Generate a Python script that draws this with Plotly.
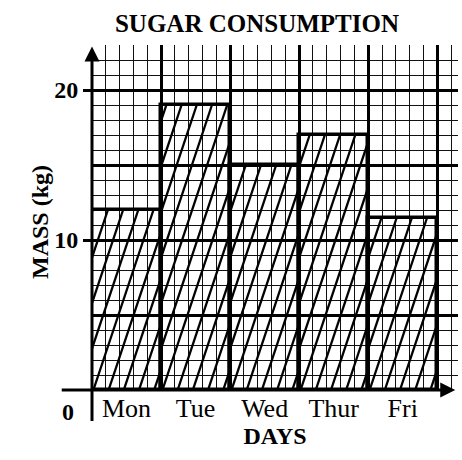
import numpy as np
import plotly.graph_objects as go

# ---- data ----
days = ["Mon", "Tue", "Wed", "Thur", "Fri"]
mass_kg = [12, 19, 15, 17, 11.5]
y_tick_vals = [10, 20]
y_tick_text = ["10", "20"]

SERIF = "Liberation Serif, Times New Roman, serif"

pos = list(range(len(days)))

# hatch lines (computed from the bar values)
slope = 13.8      # kg per bar-width (steep hatch)
spacing = 0.22    # horizontal spacing in bar widths
hx, hy = [], []
for i, h in zip(pos, mass_kg):
    left, right = i - 0.5, i + 0.5
    jmin = int(np.floor(-(h / slope) / spacing)) - 1
    jmax = int(np.ceil(1 / spacing)) + 1
    for j in range(jmin, jmax + 1):
        c = left + j * spacing + 0.02
        ya = max(0.0, (left - c) * slope)
        yb = min(h, (right - c) * slope)
        if yb > ya + 1e-6:
            hx += [c + ya / slope, c + yb / slope, None]
            hy += [ya, yb, None]

fig = go.Figure()

fig.add_trace(go.Bar(
    x=pos, y=mass_kg, width=1,
    marker=dict(color="rgba(0,0,0,0)", line=dict(color="black", width=3.5)),
    hoverinfo="skip", showlegend=False,
))
fig.add_trace(go.Scatter(
    x=hx, y=hy, mode="lines", line=dict(color="black", width=2.3),
    hoverinfo="skip", showlegend=False,
))
# invisible trace to anchor the grid overlay axes
fig.add_trace(go.Scatter(
    x=pos, y=mass_kg, xaxis="x2", yaxis="y2", mode="markers",
    marker=dict(opacity=0), hoverinfo="skip", showlegend=False,
))

xr = [-0.5, 4.8]
yr = [0, 23]

fig.update_layout(
    width=462, height=460,
    margin=dict(l=92, r=4, t=45, b=70, autoexpand=False),
    paper_bgcolor="white", plot_bgcolor="white",
    font=dict(family=SERIF, color="black", size=22),
    title=dict(text="<b>SUGAR CONSUMPTION</b>", x=257 / 462, xanchor="center",
               y=1 - 23 / 460, yanchor="middle", yref="container", automargin=False,
               font=dict(family=SERIF, size=25, color="black")),
    xaxis=dict(range=xr, tickvals=pos, ticktext=days, showgrid=False,
               zeroline=False, showline=False, ticks="", automargin=False,
               tickfont=dict(family=SERIF, size=26),
               title=dict(text="<b>DAYS</b>", standoff=4,
                          font=dict(family=SERIF, size=24))),
    yaxis=dict(range=yr, tickvals=y_tick_vals, ticktext=y_tick_text,
               showgrid=False, zeroline=False, showline=False, automargin=False,
               ticks="outside", ticklen=8, tickwidth=3, tickcolor="black",
               tickfont=dict(family=SERIF, size=24, weight="bold")),
    xaxis2=dict(overlaying="x", matches="x", range=xr, tick0=-0.5, dtick=1,
                showgrid=True, gridcolor="black", gridwidth=3, automargin=False,
                showticklabels=False, ticks="", zeroline=False, showline=False,
                minor=dict(tick0=-0.5, dtick=0.2, showgrid=True,
                           gridcolor="#111", gridwidth=1.3)),
    yaxis2=dict(overlaying="y", matches="y", range=yr, tick0=0, dtick=5,
                showgrid=True, gridcolor="black", gridwidth=3, automargin=False,
                showticklabels=False, ticks="", zeroline=False, showline=False,
                minor=dict(tick0=0, dtick=1, showgrid=True,
                           gridcolor="#111", gridwidth=1.3)),
    bargap=0,
)

# axes with arrows
fig.add_annotation(x=xr[1] - 0.04, y=0, ax=-395, ay=0, axref="pixel", ayref="pixel",
                   text="", showarrow=True, arrowhead=2, arrowsize=1,
                   arrowwidth=3, arrowcolor="black", standoff=0, startstandoff=0)
fig.add_annotation(x=-0.5, y=yr[1] - 0.1, ax=0, ay=376, axref="pixel", ayref="pixel",
                   text="", showarrow=True, arrowhead=2, arrowsize=1,
                   arrowwidth=3, arrowcolor="black", standoff=0, startstandoff=0)

# origin label and y-axis title
fig.add_annotation(x=-0.5, y=0, xref="x", yref="y", text="<b>0</b>", showarrow=False,
                   xshift=-24, yshift=-22, font=dict(family=SERIF, size=24))
fig.add_annotation(x=-67 / 366, y=11.2, xref="paper", yref="y",
                   text="<b>MASS (kg)</b>", textangle=-90, showarrow=False,
                   font=dict(family=SERIF, size=24))

fig.write_html("out.html", config={"displayModeBar": False},
               post_script="document.body.style.margin='0';")
